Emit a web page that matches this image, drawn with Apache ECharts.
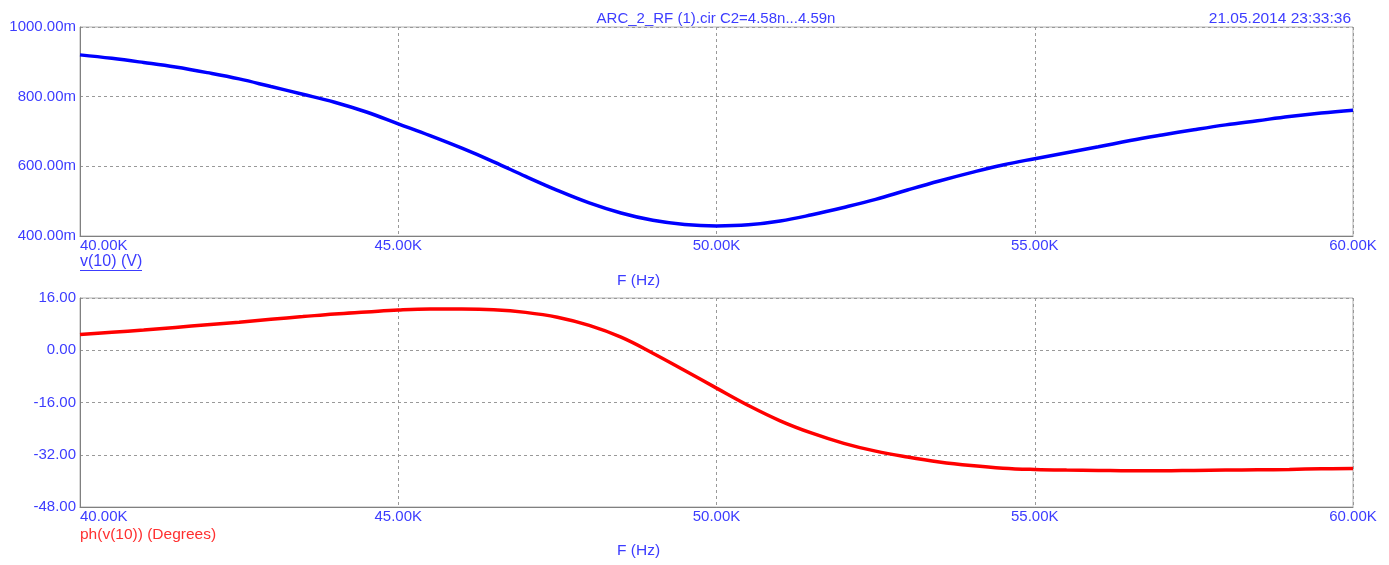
<!DOCTYPE html>
<html>
<head>
<meta charset="utf-8">
<title>ARC_2_RF (1).cir</title>
<script src="https://cdn.jsdelivr.net/npm/echarts@6/dist/echarts.min.js"></script>
<style>
  html, body { margin: 0; padding: 0; background: #fff; }
  #chart { width: 1389px; height: 565px; }
</style>
</head>
<body>
<div id="chart"></div>
<script>
// Frequency sweep points, kHz
const freqK = [
  40.0, 40.5, 41.0, 41.5, 42.0, 42.5, 43.0, 43.5, 44.0, 44.5,
  45.0, 45.5, 46.0, 46.5, 47.0, 47.5, 48.0, 48.5, 49.0, 49.5,
  50.0, 50.5, 51.0, 51.5, 52.0, 52.5, 53.0, 53.5, 54.0, 54.5,
  55.0, 55.5, 56.0, 56.5, 57.0, 57.5, 58.0, 58.5, 59.0, 59.5, 60.0
];
// |v(10)| in mV
const magMilliV = [
  920, 910, 898, 885, 869, 851, 829, 807, 784, 756,
  722, 688, 652, 613, 571, 531, 495, 466, 445, 433,
  429, 432, 443, 461, 482, 505, 532, 558, 582, 604,
  622, 639, 656, 674, 690, 705, 719, 731, 743, 753, 761
];
// ph(v(10)) in degrees
const phaseDeg = [
  4.8, 5.5, 6.2, 7.0, 7.8, 8.6, 9.5, 10.3, 11.1, 11.7,
  12.3, 12.6, 12.6, 12.4, 11.6, 10.1, 7.6, 4.0, -0.9, -6.2,
  -11.6, -16.9, -21.6, -25.4, -28.5, -30.9, -32.7, -34.2, -35.3, -36.1,
  -36.5, -36.7, -36.8, -36.9, -36.9, -36.8, -36.7, -36.6, -36.5, -36.3, -36.2
];
const xTicksHz = { min: 40000, max: 60000, step: 5000 };
const magTicks = { min: 400, max: 1000, step: 200 };
const phaseTicks = { min: -48, max: 16, step: 16 };

const BLUE_TXT = '#3c3cff';
const FONT = '"Liberation Sans", Arial, sans-serif';

const magData = freqK.map((f, i) => [f * 1000, magMilliV[i]]);
const phaseData = freqK.map((f, i) => [f * 1000, phaseDeg[i]]);

function xAxis(gridIndex) {
  return {
    type: 'value', gridIndex,
    min: xTicksHz.min, max: xTicksHz.max, interval: xTicksHz.step,
    axisLine: { show: true, onZero: false, lineStyle: { color: '#808080', width: 1 } },
    axisTick: { show: false },
    axisLabel: {
      color: BLUE_TXT, fontFamily: FONT, fontSize: 15, margin: 2,
      alignMinLabel: 'left',
      formatter: v => (v / 1000).toFixed(2) + 'K'
    },
    splitLine: { show: true, lineStyle: { color: '#999', type: [3, 3], width: 1 } }
  };
}

function yAxis(gridIndex, t, fmt) {
  return {
    type: 'value', gridIndex,
    min: t.min, max: t.max, interval: t.step,
    axisLine: { show: true, lineStyle: { color: '#808080', width: 1 } },
    axisTick: { show: false },
    axisLabel: { color: BLUE_TXT, fontFamily: FONT, fontSize: 15, margin: 4, formatter: fmt },
    splitLine: { show: true, lineStyle: { color: '#999', type: [3, 3], width: 1 } }
  };
}

const chart = echarts.init(document.getElementById('chart'), null, { renderer: 'canvas' });
chart.setOption({
  backgroundColor: '#fff',
  animation: false,
  grid: [
    { left: 80, right: 36, top: 27, height: 209, show: true, borderColor: '#b0b0b0', borderWidth: 1, backgroundColor: 'transparent' },
    { left: 80, right: 36, top: 298, height: 209, show: true, borderColor: '#b0b0b0', borderWidth: 1, backgroundColor: 'transparent' }
  ],
  xAxis: [xAxis(0), xAxis(1)],
  yAxis: [
    yAxis(0, magTicks, v => v.toFixed(2) + 'm'),
    yAxis(1, phaseTicks, v => v.toFixed(2))
  ],
  series: [
    {
      type: 'line', xAxisIndex: 0, yAxisIndex: 0, data: magData,
      smooth: 0.4, showSymbol: false, lineStyle: { color: '#0000ff', width: 3.5 }
    },
    {
      type: 'line', xAxisIndex: 1, yAxisIndex: 1, data: phaseData,
      smooth: 0.4, showSymbol: false, lineStyle: { color: '#ff0000', width: 3.5 }
    }
  ],
  graphic: [
    { type: 'text', x: 716, y: 11, style: { text: 'ARC_2_RF (1).cir C2=4.58n...4.59n', fill: BLUE_TXT, font: '15px ' + FONT, align: 'center' } },
    { type: 'text', x: 1351, y: 11, style: { text: '21.05.2014 23:33:36', fill: BLUE_TXT, font: '15.5px ' + FONT, align: 'right' } },
    { type: 'text', x: 80, y: 254, style: { text: 'v(10) (V)', fill: BLUE_TXT, font: '16px ' + FONT } },
    { type: 'line', shape: { x1: 80, y1: 270.5, x2: 142, y2: 270.5 }, style: { stroke: BLUE_TXT, lineWidth: 1 } },
    { type: 'text', x: 617, y: 273, style: { text: 'F (Hz)', fill: BLUE_TXT, font: '15.5px ' + FONT } },
    { type: 'text', x: 80, y: 527, style: { text: 'ph(v(10)) (Degrees)', fill: '#ff3030', font: '15.5px ' + FONT } },
    { type: 'text', x: 617, y: 543, style: { text: 'F (Hz)', fill: BLUE_TXT, font: '15.5px ' + FONT } }
  ]
});
</script>
</body>
</html>
